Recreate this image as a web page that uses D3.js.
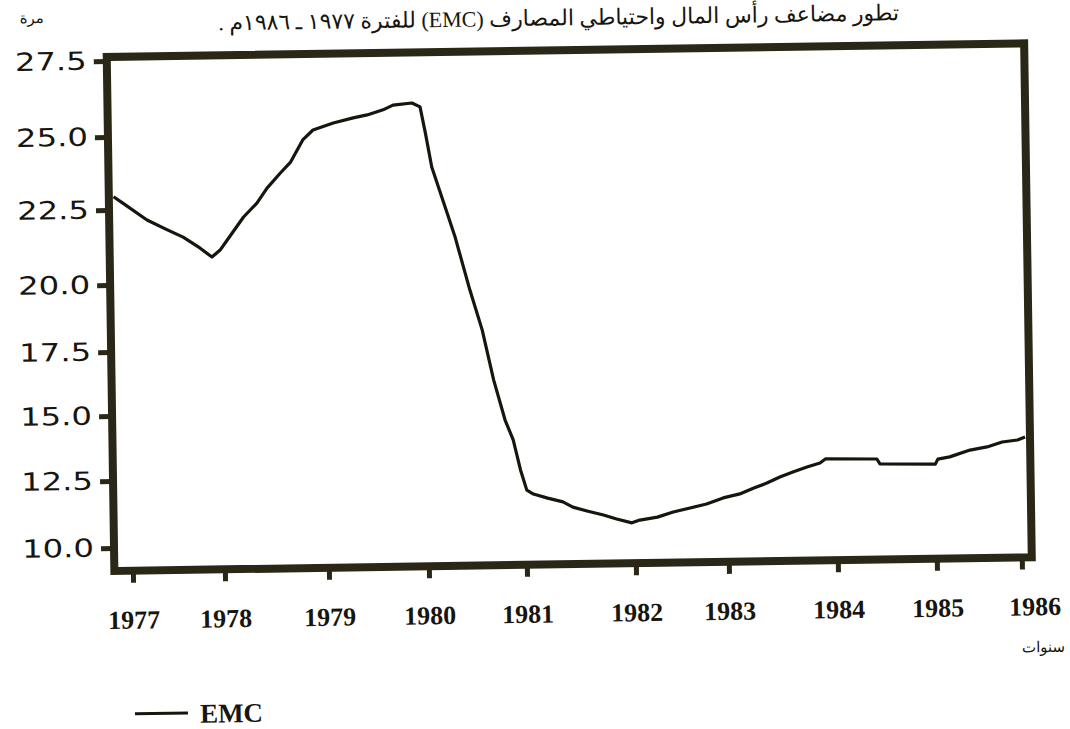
<!DOCTYPE html>
<html>
<head>
<meta charset="utf-8">
<script src="https://cdn.jsdelivr.net/npm/d3@7"></script>
<style>
  html, body { margin: 0; padding: 0; background: #ffffff; }
  svg { display: block; }
</style>
</head>
<body>
<svg id="chart" width="1070" height="729"></svg>
<script>
// ---- data ----
const titleText = "تطور مضاعف رأس المال واحتياطي المصارف  (EMC)  للفترة ١٩٧٧ ـ ١٩٨٦م .";
const yUnitLabel = "مرة";
const xUnitLabel = "سنوات";
const seriesName = "EMC";
const xTickYears = [1977, 1978, 1979, 1980, 1981, 1982, 1983, 1984, 1985, 1986];
const yTickValues = [10, 12.5, 15, 17.5, 20, 22.5, 25, 27.5];
const years = [1976.85, 1976.95, 1977.21, 1977.43, 1977.60, 1977.78, 1977.91, 1978.00, 1978.07, 1978.23,
  1978.36, 1978.46, 1978.59, 1978.69, 1978.81, 1978.91, 1979.11, 1979.31, 1979.45, 1979.61,
  1979.71, 1979.90, 1979.98, 1980.03, 1980.09, 1980.24, 1980.32, 1980.46, 1980.58, 1980.69,
  1980.80, 1980.88, 1980.95, 1981.01, 1981.07, 1981.20, 1981.34, 1981.43, 1981.56, 1981.71,
  1981.83, 1981.97, 1982.05, 1982.24, 1982.41, 1982.77, 1982.95, 1983.11, 1983.24, 1983.36,
  1983.48, 1983.60, 1983.73, 1983.85, 1983.90, 1984.41, 1984.44, 1985.00, 1985.03, 1985.17,
  1985.41, 1985.61, 1985.79, 1985.97, 1986.06];
const emc = [22.95, 22.73, 22.15, 21.81, 21.56, 21.19, 20.88, 21.11, 21.44, 22.20,
  22.66, 23.17, 23.68, 24.05, 24.80, 25.13, 25.35, 25.51, 25.60, 25.76,
  25.91, 25.97, 25.84, 24.98, 23.81, 22.23, 21.40, 19.62, 18.12, 16.18,
  14.62, 13.85, 12.69, 11.93, 11.78, 11.62, 11.47, 11.27, 11.12, 10.96,
  10.80, 10.65, 10.75, 10.85, 11.03, 11.31, 11.53, 11.67, 11.88, 12.06,
  12.28, 12.46, 12.64, 12.79, 12.94, 12.91, 12.72, 12.68, 12.87, 12.95,
  13.20, 13.31, 13.49, 13.56, 13.67];

// ---- layout ----
const frame = { left: 110.5, top: 57, right: 1028, bottom: 571 };
const ink = "#17150e";
const frameInk = "#2a2717";

const svg = d3.select("#chart");
// the scanned page is slightly tilted
const g = svg.append("g").attr("transform", "rotate(-0.85,110,310)");

// scales (piecewise to follow the scan's uneven tick spacing)
const x = d3.scaleLinear()
  .domain(xTickYears)
  .range([129, 221, 325, 425, 523, 632, 725, 834, 933, 1018]);
const y = d3.scaleLinear()
  .domain(yTickValues)
  .range([548, 481, 416, 352, 285, 210, 137, 61]);

// title & unit labels
g.append("text")
  .attr("x", 563).attr("y", 32)
  .attr("direction", "rtl")
  .attr("text-anchor", "middle")
  .style("font-family", "'Liberation Serif', 'DejaVu Sans', serif")
  .style("font-size", "22px")
  .attr("fill", ink)
  .text(titleText);

g.append("text")
  .attr("x", 36).attr("y", 22)
  .attr("text-anchor", "middle")
  .style("font-family", "'DejaVu Sans', sans-serif")
  .style("font-size", "15px")
  .attr("fill", ink)
  .text(yUnitLabel);

g.append("text")
  .attr("x", 1060).attr("y", 666)
  .attr("text-anchor", "end")
  .style("font-family", "'DejaVu Sans', sans-serif")
  .style("font-size", "15px")
  .attr("fill", ink)
  .text(xUnitLabel);

// y axis
const yAxis = g.append("g")
  .attr("transform", `translate(${frame.left},0)`)
  .call(d3.axisLeft(y).tickValues(yTickValues).tickSize(13).tickPadding(8)
    .tickFormat(d3.format(".1f")));
yAxis.select(".domain").remove();
yAxis.selectAll(".tick line").attr("stroke", frameInk).attr("stroke-width", 5);
yAxis.selectAll(".tick text")
  .attr("x", -20)
  .attr("fill", ink)
  .style("font-family", "'DejaVu Sans', sans-serif")
  .style("font-size", "25px")
  .attr("textLength", 72)
  .attr("lengthAdjust", "spacingAndGlyphs");

// x axis
const xAxis = g.append("g")
  .attr("transform", `translate(0,${frame.bottom})`)
  .call(d3.axisBottom(x).tickValues(xTickYears).tickSize(12).tickPadding(0)
    .tickFormat(d3.format("d")));
xAxis.select(".domain").remove();
xAxis.selectAll(".tick line").attr("stroke", frameInk).attr("stroke-width", 5);
xAxis.selectAll(".tick text")
  .attr("y", 58)
  .attr("dy", 0)
  .attr("dx", (d, i) => i === xTickYears.length - 1 ? 12 : 0)
  .attr("fill", ink)
  .style("font-family", "'Liberation Serif', serif")
  .style("font-weight", "bold")
  .style("font-size", "26px");

// frame
g.append("rect")
  .attr("x", frame.left).attr("y", frame.top)
  .attr("width", frame.right - frame.left)
  .attr("height", frame.bottom - frame.top)
  .attr("fill", "none")
  .attr("stroke", frameInk)
  .attr("stroke-width", 8);

// series line
const data = years.map((yr, i) => ({ yr, v: emc[i] }));
const line = d3.line().x(d => x(d.yr)).y(d => y(d.v));
g.append("path")
  .datum(data)
  .attr("d", line)
  .attr("fill", "none")
  .attr("stroke", ink)
  .attr("stroke-width", 3.2)
  .attr("stroke-linejoin", "round");

// legend
g.append("line")
  .attr("x1", 129).attr("x2", 182)
  .attr("y1", 714).attr("y2", 714)
  .attr("stroke", ink).attr("stroke-width", 3);
g.append("text")
  .attr("x", 194).attr("y", 724)
  .attr("fill", ink)
  .style("font-family", "'Liberation Serif', serif")
  .style("font-weight", "bold")
  .style("font-size", "27px")
  .text(seriesName);
</script>
</body>
</html>
